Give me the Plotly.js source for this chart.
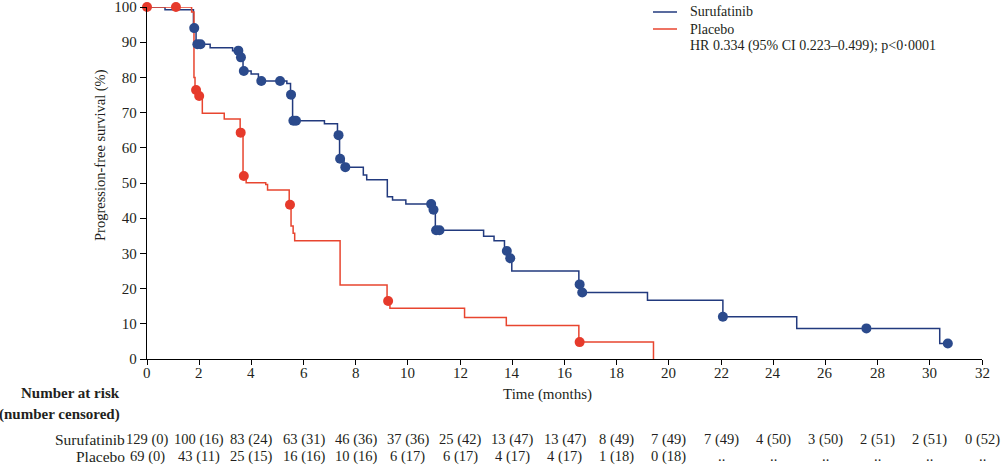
<!DOCTYPE html>
<html>
<head>
<meta charset="utf-8">
<script src="https://cdn.plot.ly/plotly-3.0.1.min.js"></script>
<style>html,body{margin:0;padding:0;background:#fff;}#chart{width:1006px;height:468px;}</style>
</head>
<body>
<div id="chart"></div>
<script>
// Kaplan-Meier step points (time of step, survival % after step)
const suruTime = [0, 0.69, 1.78, 1.88, 2.42, 3.28, 3.55, 3.68, 3.99, 4.27, 5.36, 5.50, 5.58, 6.80, 7.30, 7.38, 7.55, 8.29, 8.42, 9.21, 9.41, 9.92, 10.95, 11.05, 12.90, 13.30, 13.70, 13.85, 13.98, 16.55, 16.65, 19.18, 22.07, 24.90, 30.38, 30.69];
const suruSurv = [100, 99.2, 94.0, 89.4, 88.4, 87.6, 85.7, 81.8, 81.0, 79.0, 78.3, 75.1, 67.7, 66.8, 63.6, 56.9, 54.5, 52.3, 50.9, 46.1, 45.2, 44.0, 42.4, 36.6, 34.9, 33.6, 30.7, 28.6, 25.0, 21.2, 18.9, 16.7, 12.0, 8.7, 4.4, 4.4];
const placTime = [0, 1.71, 1.80, 1.84, 1.97, 2.12, 2.96, 3.57, 3.68, 3.80, 4.55, 4.62, 5.45, 5.52, 5.60, 5.66, 7.40, 9.20, 9.31, 12.17, 13.77, 16.55, 19.41];
const placSurv = [100, 98.6, 80.0, 76.4, 74.7, 69.8, 68.2, 64.3, 52.0, 50.1, 49.6, 48.0, 43.8, 37.8, 35.7, 33.6, 21.0, 16.5, 14.4, 11.8, 9.5, 4.8, 0];
// Censored observations
const suruCensT = [1.81, 1.93, 2.05, 3.50, 3.60, 3.71, 4.38, 5.10, 5.52, 5.61, 5.71, 7.34, 7.40, 7.60, 10.89, 10.98, 11.08, 11.21, 13.79, 13.92, 16.58, 16.68, 22.07, 27.57, 30.69];
const suruCensS = [94.0, 89.4, 89.4, 87.6, 85.7, 81.8, 79.0, 79.0, 75.1, 67.7, 67.7, 63.6, 56.9, 54.5, 44.0, 42.4, 36.6, 36.6, 30.7, 28.6, 21.2, 18.9, 12.0, 8.7, 4.4];
const placCensT = [0, 1.11, 1.88, 2.00, 3.59, 3.71, 5.48, 9.24, 16.58];
const placCensS = [100, 100, 76.4, 74.7, 64.3, 52.0, 43.8, 16.5, 4.8];
// Number at risk table
const riskTimes = [0, 2, 4, 6, 8, 10, 12, 14, 16, 18, 20, 22, 24, 26, 28, 30, 32];
const xTickLabels = ["0", "2", "4", "6", "8", "10", "12", "14", "16", "18", "20", "22", "24", "26", "28", "30", "32"];
const suruRisk = ["129 (0)", "100 (16)", "83 (24)", "63 (31)", "46 (36)", "37 (36)", "25 (42)", "13 (47)", "13 (47)", "8 (49)", "7 (49)", "7 (49)", "4 (50)", "3 (50)", "2 (51)", "2 (51)", "0 (52)"];
const placRisk = ["69 (0)", "43 (11)", "25 (15)", "16 (16)", "10 (16)", "6 (17)", "6 (17)", "4 (17)", "4 (17)", "1 (18)", "0 (18)", "..", "..", "..", "..", "..", ".."];
const seriesNames = ["Surufatinib", "Placebo"];
const hrText = "HR 0.334 (95% CI 0.223–0.499); p<0·0001";

const BLUE = "#223a7e", BLUE_M = "#2b4a8c", RED = "#e8452f", RED_M = "#e63a2b";
const FONT = "'Liberation Serif', 'Times New Roman', serif";
const TXT = "#231f20";

const traces = [
  {x: suruTime, y: suruSurv, type: "scatter", mode: "lines", line: {shape: "hv", color: BLUE, width: 1.5}, name: seriesNames[0], cliponaxis: false},
  {x: placTime, y: placSurv, type: "scatter", mode: "lines", line: {shape: "hv", color: RED, width: 1.5}, name: seriesNames[1], cliponaxis: false},
  {x: suruCensT, y: suruCensS, type: "scatter", mode: "markers", marker: {color: BLUE_M, size: 10}, showlegend: false, cliponaxis: false},
  {x: placCensT, y: placCensS, type: "scatter", mode: "markers", marker: {color: RED_M, size: 10}, showlegend: false, cliponaxis: false}
];

const PL = 147, PR = 982, PT = 7, PB = 359;
const px2x = p => (p - PL) / (PR - PL);
const py2y = p => (PB - p) / (PB - PT);

const ann = [];
const shapes = [];
// legend (manual)
[[12, BLUE, seriesNames[0]], [29, RED, seriesNames[1]]].forEach(([py, col, name]) => {
  shapes.push({type: "line", xref: "paper", yref: "paper", x0: px2x(653), x1: px2x(677), y0: py2y(py), y1: py2y(py), line: {color: col, width: 1.5}});
  ann.push({xref: "paper", yref: "paper", x: px2x(688), y: py2y(py), xanchor: "left", yanchor: "middle", text: name, showarrow: false, font: {family: FONT, size: 14, color: TXT}});
});
ann.push({xref: "paper", yref: "paper", x: px2x(688), y: py2y(46), xanchor: "left", yanchor: "middle", text: hrText, showarrow: false, font: {family: FONT, size: 14, color: TXT}});
// x tick labels
riskTimes.forEach((t, i) => {
  ann.push({xref: "x", yref: "paper", x: t, y: py2y(373), xanchor: "center", yanchor: "middle", text: xTickLabels[i], showarrow: false, font: {family: FONT, size: 15, color: TXT}});
});
ann.push({xref: "paper", yref: "paper", x: px2x(547), y: py2y(394), xanchor: "center", yanchor: "middle", text: "Time (months)", showarrow: false, font: {family: FONT, size: 15, color: TXT}});
ann.push({xref: "paper", yref: "paper", x: px2x(100), y: py2y(155), xanchor: "center", yanchor: "middle", textangle: -90, text: "Progression-free survival (%)", showarrow: false, font: {family: FONT, size: 14.5, color: TXT}});
ann.push({xref: "paper", yref: "paper", x: px2x(122), y: py2y(393), xanchor: "right", yanchor: "middle", text: "<b>Number at risk</b>", showarrow: false, font: {family: FONT, size: 15, color: TXT}});
ann.push({xref: "paper", yref: "paper", x: px2x(122), y: py2y(414), xanchor: "right", yanchor: "middle", text: "<b>(number censored)</b>", showarrow: false, font: {family: FONT, size: 15, color: TXT}});
ann.push({xref: "paper", yref: "paper", x: px2x(127), y: py2y(439), xanchor: "right", yanchor: "middle", text: seriesNames[0], showarrow: false, font: {family: FONT, size: 15.5, color: TXT}});
ann.push({xref: "paper", yref: "paper", x: px2x(127), y: py2y(456), xanchor: "right", yanchor: "middle", text: seriesNames[1], showarrow: false, font: {family: FONT, size: 15.5, color: TXT}});
riskTimes.forEach((t, i) => {
  ann.push({xref: "x", yref: "paper", x: t, y: py2y(439), xanchor: "center", yanchor: "middle", text: suruRisk[i], showarrow: false, font: {family: FONT, size: 14.5, color: TXT}});
  ann.push({xref: "x", yref: "paper", x: t, y: py2y(456), xanchor: "center", yanchor: "middle", text: placRisk[i], showarrow: false, font: {family: FONT, size: 14.5, color: TXT}});
});

const layout = {
  width: 1006, height: 468,
  margin: {l: PL, r: 1006 - PR, t: PT, b: 468 - PB, pad: 0, autoexpand: false},
  paper_bgcolor: "#fff", plot_bgcolor: "#fff",
  font: {family: FONT, size: 15, color: TXT},
  showlegend: false,
  xaxis: {range: [0, 32], tickvals: riskTimes, showticklabels: false, showgrid: false, zeroline: false, showline: true, linecolor: "#000", linewidth: 1.2, ticks: "outside", ticklen: 5, tickcolor: "#000", tickwidth: 1, fixedrange: true, automargin: false},
  yaxis: {range: [0, 100], dtick: 10, showgrid: false, zeroline: false, showline: true, linecolor: "#000", linewidth: 1.2, ticks: "outside", ticklen: 6, tickcolor: "#000", tickwidth: 1, tickfont: {family: FONT, size: 15, color: TXT}, ticklabeloverflow: "allow", fixedrange: true, automargin: false},
  shapes: shapes,
  annotations: ann
};

Plotly.newPlot("chart", traces, layout, {displayModeBar: false, staticPlot: true});
</script>
</body>
</html>
